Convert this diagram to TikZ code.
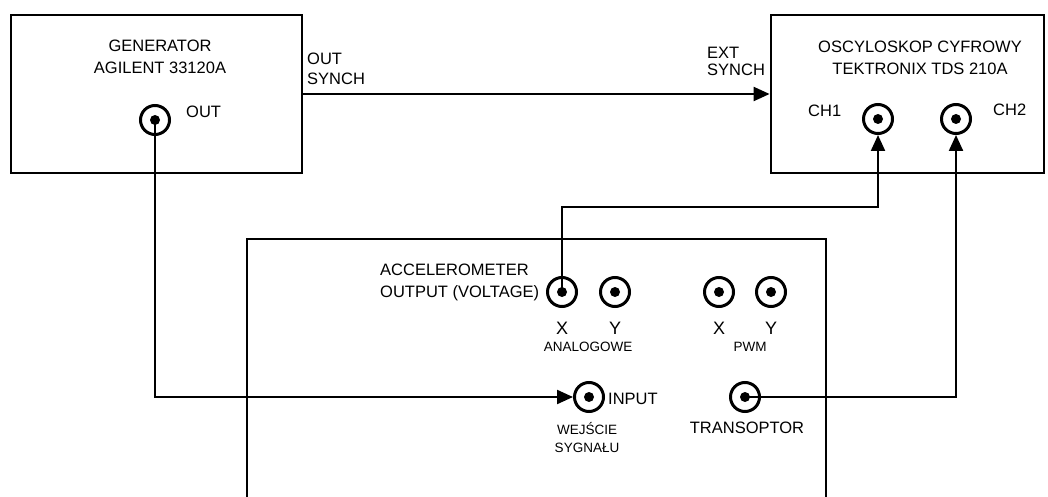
\documentclass[tikz,border=0pt]{standalone}
\usepackage{fontspec}
\setmainfont{Liberation Sans}
\usetikzlibrary{arrows.meta,positioning,calc}

\tikzset{
    unit/.style={draw, line width=2.8pt, inner sep=0pt},
    jack/.style={circle, draw, line width=3pt, minimum size=29pt, inner sep=0pt,
                 path picture={\fill (path picture bounding box.center) circle (5pt);}},
    wire/.style={line width=2.2pt},
    feed/.style={wire, -{Triangle[length=16pt, width=14pt]}},
    lbl/.style={inner sep=0pt, font=\fontsize{16.5}{20}\selectfont},
    small/.style={inner sep=0pt, font=\fontsize{13.5}{18}\selectfont},
    axis/.style={inner sep=0pt, font=\fontsize{18}{20}\selectfont},
}

\begin{document}
\begin{tikzpicture}[x=1pt, y=-1pt]
\useasboundingbox (0,0) rectangle (1048,497);

% instruments
\node[unit, minimum width=291pt, minimum height=158pt] (gen) at (156.5,94) {};
\node[unit, minimum width=273pt, minimum height=158pt] (osc) at (907.5,94) {};
\draw[line width=2.8pt] (247,497) -- (247,239) -- (826,239) -- (826,497);

\node[lbl, anchor=base, align=center, font=\fontsize{16.5}{22}\selectfont] (gentitle) at (160,74) {GENERATOR\\AGILENT 33120A};
\node[lbl, anchor=base, align=center, font=\fontsize{16.5}{22}\selectfont] (osctitle) at (920,75) {OSCYLOSKOP CYFROWY\\TEKTRONIX TDS 210A};

% connectors
\node[jack] (gout) at (155,120) {};
\node[jack] (ch1) at (878,119) {};
\node[jack] (ch2) at (956,119) {};
\node[jack] (ax) at (562,292) {};
\node[jack] (ay) at (615,292) {};
\node[jack] (px) at (719,292) {};
\node[jack] (py) at (771,292) {};
\node[jack] (inp) at (589,397) {};
\node[jack] (trans) at (745,397) {};

% labels
\node[lbl, anchor=base west] (outlbl) at (186,118) {OUT};
\node[lbl, anchor=base west, align=left] (outsynch) at (307,85) {OUT\\SYNCH};
\node[lbl, anchor=base west, align=left, font=\fontsize{16.5}{17.5}\selectfont] (extsynch) at (707,76) {EXT\\SYNCH};
\node[lbl, anchor=base west] (ch1lbl) at (808,117) {CH1};
\node[lbl, anchor=base west] (ch2lbl) at (993,116) {CH2};
\node[lbl, anchor=base west, align=left, font=\fontsize{16.5}{22}\selectfont] (acclbl) at (380,297) {ACCELEROMETER\\OUTPUT (VOLTAGE)};
\node[axis, anchor=base] (axlbl) at (562,334) {X};
\node[axis, anchor=base] (aylbl) at (615,334) {Y};
\node[axis, anchor=base] (pxlbl) at (719,334) {X};
\node[axis, anchor=base] (pylbl) at (771,334) {Y};
\node[small, anchor=base] (analbl) at (588,351) {ANALOGOWE};
\node[small, anchor=base] (pwmlbl) at (750,351) {PWM};
\node[lbl, anchor=base west] (inplbl) at (608,404) {INPUT};
\node[small, anchor=base, align=center] (wejlbl) at (587,452) {WEJŚCIE\\SYGNAŁU};
\node[lbl, anchor=base] (translbl) at (747,433) {TRANSOPTOR};

% wiring
\coordinate (bend) at (0,207);
\draw[feed] (gen.east) -- (osc.west);
\draw[feed] (gout.center) |- (inp.west);
\draw[feed] (ax.center) -- (ax |- bend) -| (ch1.south);
\draw[feed] (trans.center) -| (ch2.south);
\end{tikzpicture}
\end{document}
